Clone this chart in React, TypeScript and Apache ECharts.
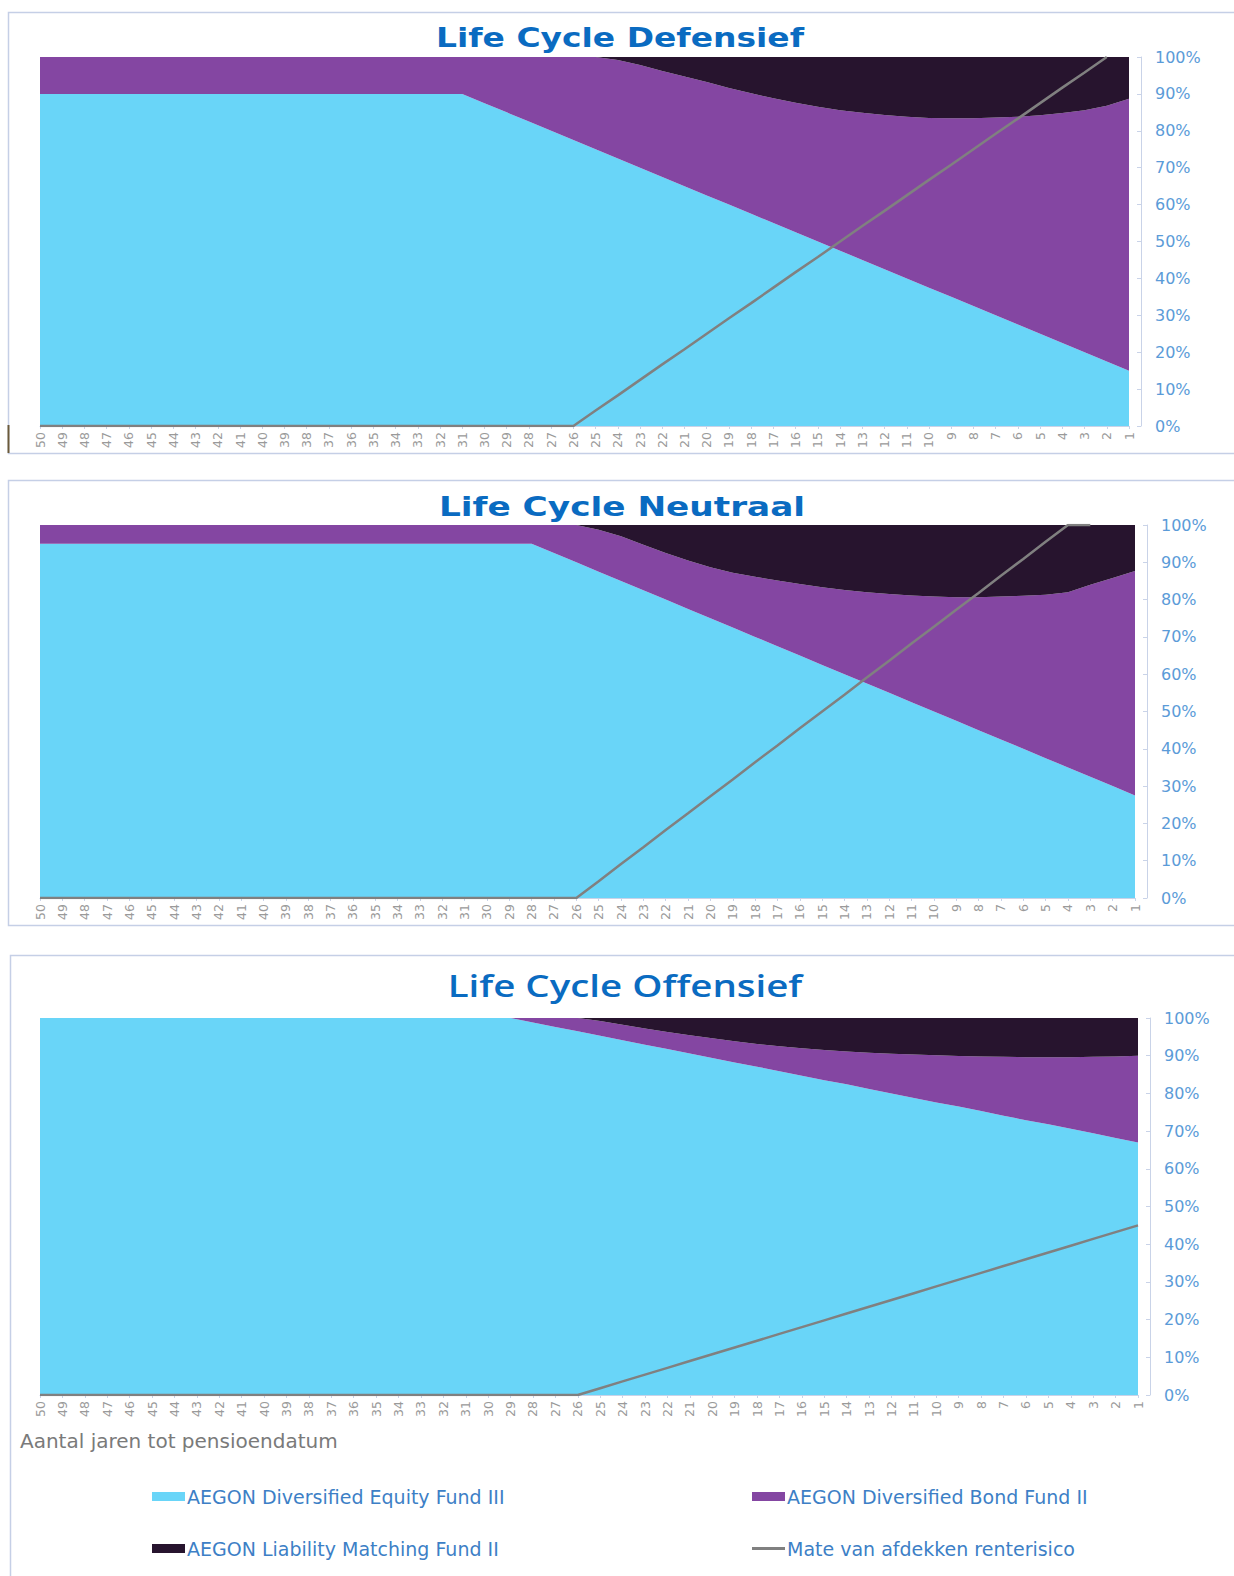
import React, { useEffect, useRef } from "react";
import * as echarts from "echarts";

const years = [
  "50", "49", "48", "47", "46", "45", "44", "43", "42", "41",
  "40", "39", "38", "37", "36", "35", "34", "33", "32", "31",
  "30", "29", "28", "27", "26", "25", "24", "23", "22", "21",
  "20", "19", "18", "17", "16", "15", "14", "13", "12", "11",
  "10", "9", "8", "7", "6", "5", "4", "3", "2", "1",
];

const yTicks = ["0%", "10%", "20%", "30%", "40%", "50%", "60%", "70%", "80%", "90%", "100%"];

const seriesNames = [
  "AEGON Diversified Equity Fund III",
  "AEGON Diversified Bond Fund II",
  "AEGON Liability Matching Fund II",
  "Mate van afdekken renterisico",
];

const titles = ["Life Cycle Defensief", "Life Cycle Neutraal", "Life Cycle Offensief"];
const xAxisName = "Aantal jaren tot pensioendatum";

// ---- Defensief ----
const defEquity = [
  90, 90, 90, 90, 90, 90, 90, 90, 90, 90,
  90, 90, 90, 90, 90, 90, 90, 90, 90, 90,
  87.5, 85, 82.5, 80, 77.5, 75, 72.5, 70, 67.5, 65,
  62.5, 60, 57.5, 55, 52.5, 50, 47.5, 45, 42.5, 40,
  37.5, 35, 32.5, 30, 27.5, 25, 22.5, 20, 17.5, 15,
];
const defBond = [
  10, 10, 10, 10, 10, 10, 10, 10, 10, 10,
  10, 10, 10, 10, 10, 10, 10, 10, 10, 10,
  12.5, 15, 17.5, 20, 22.5, 25, 26.7, 27.8, 28.7, 29.7,
  30.7, 31.6, 32.7, 33.8, 35.1, 36.5, 38.1, 39.9, 41.8, 43.8,
  46, 48.4, 50.9, 53.6, 56.3, 59.2, 62.3, 65.6, 69.3, 73.7,
];
const defLiability = [
  0, 0, 0, 0, 0, 0, 0, 0, 0, 0,
  0, 0, 0, 0, 0, 0, 0, 0, 0, 0,
  0, 0, 0, 0, 0, 0, 0.8, 2.2, 3.8, 5.3,
  6.8, 8.4, 9.8, 11.2, 12.4, 13.5, 14.4, 15.1, 15.7, 16.2,
  16.5, 16.6, 16.6, 16.4, 16.2, 15.8, 15.2, 14.4, 13.2, 11.3,
];
const defHedge = [
  0, 0, 0, 0, 0, 0, 0, 0, 0, 0,
  0, 0, 0, 0, 0, 0, 0, 0, 0, 0,
  0, 0, 0, 0, 0, 4.2, 8.3, 12.5, 16.7, 20.8,
  25, 29.2, 33.3, 37.5, 41.7, 45.8, 50, 54.2, 58.3, 62.5,
  66.7, 70.8, 75, 79.2, 83.3, 87.5, 91.7, 95.8, 100, null,
];

// ---- Neutraal ----
const neuEquity = [
  95, 95, 95, 95, 95, 95, 95, 95, 95, 95,
  95, 95, 95, 95, 95, 95, 95, 95, 95, 95,
  95, 95, 95, 92.5, 90, 87.5, 85, 82.5, 80, 77.5,
  75, 72.5, 70, 67.5, 65, 62.5, 60, 57.5, 55, 52.5,
  50, 47.5, 45, 42.5, 40, 37.5, 35, 32.5, 30, 27.5,
];
const neuBond = [
  5, 5, 5, 5, 5, 5, 5, 5, 5, 5,
  5, 5, 5, 5, 5, 5, 5, 5, 5, 5,
  5, 5, 5, 7.5, 10, 11.2, 12, 12.2, 12.5, 13,
  13.7, 14.7, 16.1, 17.6, 19.2, 20.8, 22.6, 24.5, 26.5, 28.6,
  30.8, 33.1, 35.6, 38.3, 41, 43.8, 47, 51.5, 55.8, 60.2,
];
const neuLiability = [
  0, 0, 0, 0, 0, 0, 0, 0, 0, 0,
  0, 0, 0, 0, 0, 0, 0, 0, 0, 0,
  0, 0, 0, 0, 0, 1.3, 3, 5.3, 7.5, 9.5,
  11.3, 12.8, 13.9, 14.9, 15.8, 16.7, 17.4, 18, 18.5, 18.9,
  19.2, 19.4, 19.4, 19.2, 19, 18.7, 18, 16, 14.2, 12.3,
];
const neuHedge = [
  0, 0, 0, 0, 0, 0, 0, 0, 0, 0,
  0, 0, 0, 0, 0, 0, 0, 0, 0, 0,
  0, 0, 0, 0, 0, 4.5, 9.1, 13.6, 18.2, 22.7,
  27.3, 31.8, 36.4, 40.9, 45.5, 50, 54.5, 59.1, 63.6, 68.2,
  72.7, 77.3, 81.8, 86.4, 90.9, 95.5, 100, 100, null, null,
];

// ---- Offensief ----
const offEquity = [
  100, 100, 100, 100, 100, 100, 100, 100, 100, 100,
  100, 100, 100, 100, 100, 100, 100, 100, 100, 100,
  100, 100, 98.8, 97.6, 96.5, 95.3, 94.1, 92.9, 91.8, 90.6,
  89.4, 88.2, 87.1, 85.9, 84.7, 83.5, 82.4, 81.2, 80, 78.8,
  77.6, 76.5, 75.3, 74.1, 72.9, 71.8, 70.6, 69.4, 68.2, 67,
];
const offBond = [
  0, 0, 0, 0, 0, 0, 0, 0, 0, 0,
  0, 0, 0, 0, 0, 0, 0, 0, 0, 0,
  0, 0, 1.2, 2.4, 3.5, 3.9, 4.1, 4.3, 4.5, 4.8,
  5.2, 5.6, 6, 6.6, 7.3, 8, 8.7, 9.6, 10.5, 11.5,
  12.5, 13.4, 14.5, 15.6, 16.7, 17.8, 19, 20.3, 21.6, 23,
];
const offLiability = [
  0, 0, 0, 0, 0, 0, 0, 0, 0, 0,
  0, 0, 0, 0, 0, 0, 0, 0, 0, 0,
  0, 0, 0, 0, 0, 0.8, 1.8, 2.8, 3.7, 4.6,
  5.4, 6.2, 6.9, 7.5, 8, 8.5, 8.9, 9.2, 9.5, 9.7,
  9.9, 10.1, 10.2, 10.3, 10.4, 10.4, 10.4, 10.3, 10.2, 10,
];
const offHedge = [
  0, 0, 0, 0, 0, 0, 0, 0, 0, 0,
  0, 0, 0, 0, 0, 0, 0, 0, 0, 0,
  0, 0, 0, 0, 0, 1.8, 3.6, 5.4, 7.2, 9,
  10.8, 12.6, 14.4, 16.2, 18, 19.8, 21.6, 23.4, 25.2, 27,
  28.8, 30.6, 32.4, 34.2, 36, 37.8, 39.6, 41.4, 43.2, 45,
];

const panels = [
  { equity: defEquity, bond: defBond, liability: defLiability, hedge: defHedge },
  { equity: neuEquity, bond: neuBond, liability: neuLiability, hedge: neuHedge },
  { equity: offEquity, bond: offBond, liability: offLiability, hedge: offHedge },
];

const COLORS = ["#69d5f8", "#8446a2", "#27142e", "#808080"];

const gridBoxes = [
  { left: 40, top: 57, width: 1089, height: 369 },
  { left: 40, top: 525, width: 1095, height: 373 },
  { left: 40, top: 1018, width: 1098, height: 377 },
];

const titleLayout = [
  { x: 620, y: 38, size: 27, family: "DejaVu Sans", sx: 1.22, weight: "bold" },
  { x: 622, y: 506, size: 27, family: "DejaVu Sans", sx: 1.27, weight: "bold" },
  { x: 625, y: 985, size: 31, family: "Open Sans", sx: 1.24, weight: 600 },
];

export default function App() {
  const ref = useRef<HTMLDivElement>(null);

  useEffect(() => {
    document.body.style.margin = "0";
    if (!ref.current) return;
    const chart = echarts.init(ref.current, undefined, { renderer: "svg" });

    const series: any[] = [];
    panels.forEach((p, i) => {
      const arrs = [p.equity, p.bond, p.liability];
      arrs.forEach((arr, k) => {
        series.push({
          name: seriesNames[k],
          type: "line",
          xAxisIndex: i,
          yAxisIndex: i,
          stack: "total" + i,
          data: arr,
          symbol: "none",
          lineStyle: { width: 0, color: COLORS[k] },
          itemStyle: { color: COLORS[k] },
          areaStyle: { color: COLORS[k], opacity: 1 },
          z: 2,
        });
      });
      series.push({
        name: seriesNames[3],
        type: "line",
        xAxisIndex: i,
        yAxisIndex: i,
        data: p.hedge,
        symbol: "none",
        connectNulls: false,
        lineStyle: { width: 2.5, color: COLORS[3] },
        itemStyle: { color: COLORS[3] },
        z: 5,
      });
    });

    const legendPos = [
      { left: 152, top: 1487 },
      { left: 752, top: 1487 },
      { left: 152, top: 1539 },
      { left: 752, top: 1539 },
    ];

    const option: any = {
      animation: false,
      backgroundColor: "#ffffff",
      legend: seriesNames.map((n, k) => ({
        data: [{ name: n, icon: "rect" }],
        left: legendPos[k].left,
        top: legendPos[k].top,
        padding: 0,
        itemWidth: 33,
        itemHeight: k === 3 ? 3 : 9,
        selectedMode: false,
        textStyle: { color: "#3d7fc6", fontSize: 19, fontFamily: "DejaVu Sans", padding: [0, 0, 0, -3] },
      })),
      grid: gridBoxes.map((g) => ({ ...g, containLabel: false })),
      xAxis: gridBoxes.map((_, i) => ({
        type: "category",
        gridIndex: i,
        data: years,
        boundaryGap: false,
        axisLine: { show: true, lineStyle: { color: "#c9d3e8", width: 1 } },
        axisTick: { show: true, interval: 0, length: 3, lineStyle: { color: "#c9d3e8" } },
        axisLabel: {
          interval: 0,
          rotate: 90,
          fontSize: 12.5,
          color: "#9a9a9a",
          margin: 6,
          fontFamily: "DejaVu Sans",
        },
        splitLine: { show: false },
      })),
      yAxis: gridBoxes.map((_, i) => ({
        type: "value",
        gridIndex: i,
        position: "right",
        offset: 12,
        min: 0,
        max: 100,
        interval: 10,
        axisLine: { show: true, lineStyle: { color: "#c9d3e8", width: 1 } },
        axisTick: { show: true, inside: true, length: 4, lineStyle: { color: "#c9d3e8" } },
        axisLabel: {
          formatter: (v: number) => yTicks[Math.round(v / 10)],
          color: "#5b9bd8",
          fontSize: 16,
          margin: 14,
          fontFamily: "DejaVu Sans",
        },
        splitLine: { show: false },
      })),
      graphic: [
        { type: "rect", shape: { x: 8.5, y: 12.5, width: 1240, height: 441 }, style: { fill: "none", stroke: "#c5cfe6", lineWidth: 1.5 }, z: 0 },
        { type: "rect", shape: { x: 8.5, y: 480.5, width: 1240, height: 445 }, style: { fill: "none", stroke: "#c5cfe6", lineWidth: 1.5 }, z: 0 },
        { type: "rect", shape: { x: 10.5, y: 955.5, width: 1240, height: 640 }, style: { fill: "none", stroke: "#c5cfe6", lineWidth: 1.5 }, z: 0 },
        { type: "line", shape: { x1: 8.5, y1: 425, x2: 8.5, y2: 453 }, style: { stroke: "#6b5a3a", lineWidth: 2 }, z: 1 },
        ...titles.map((t, i) => ({
          type: "text",
          x: titleLayout[i].x,
          y: titleLayout[i].y,
          scaleX: titleLayout[i].sx,
          z: 10,
          style: {
            text: t,
            fill: "#0a6bc1",
            fontSize: titleLayout[i].size,
            fontWeight: titleLayout[i].weight,
            fontFamily: titleLayout[i].family,
            textAlign: "center",
            textVerticalAlign: "middle",
          },
        })),
        {
          type: "text",
          x: 20,
          y: 1441,
          z: 10,
          style: {
            text: xAxisName,
            fill: "#7a7a7a",
            fontSize: 20,
            fontFamily: "DejaVu Sans",
            textAlign: "left",
            textVerticalAlign: "middle",
          },
        },
      ],
      series,
    };

    chart.setOption(option);
    return () => chart.dispose();
  }, []);

  return <div ref={ref} style={{ width: 1234, height: 1576 }} />;
}
